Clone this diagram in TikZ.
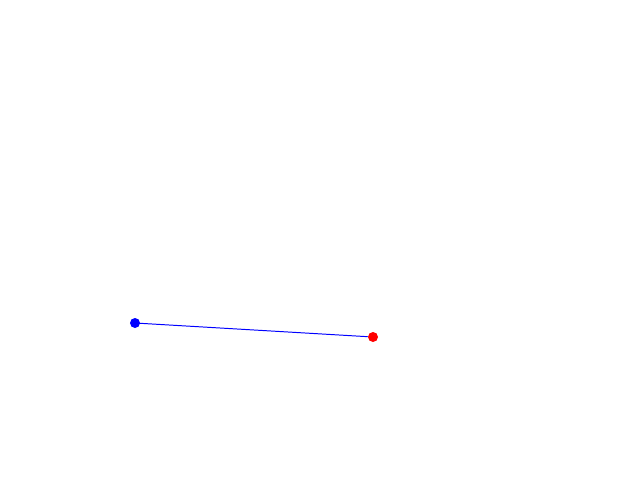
\documentclass[tikz,border=0pt]{standalone}
\usetikzlibrary{shapes,arrows}

\begin{document}
\begin{tikzpicture}[x=0.025cm, y=-0.025cm]
		\tikzstyle {dot} = [circle, inner sep=0pt, minimum size=0.25cm]
		\tikzstyle {seg line} = [blue, line width=0.7pt]

		\useasboundingbox (0, 0) rectangle (640, 480);

		\node[dot, fill=blue] (start) at (135, 323) {};
		\node[dot, fill=red] (end) at (373, 337) {};

		\draw[seg line] (start.center) -- (end);
\end{tikzpicture}
\end{document}
